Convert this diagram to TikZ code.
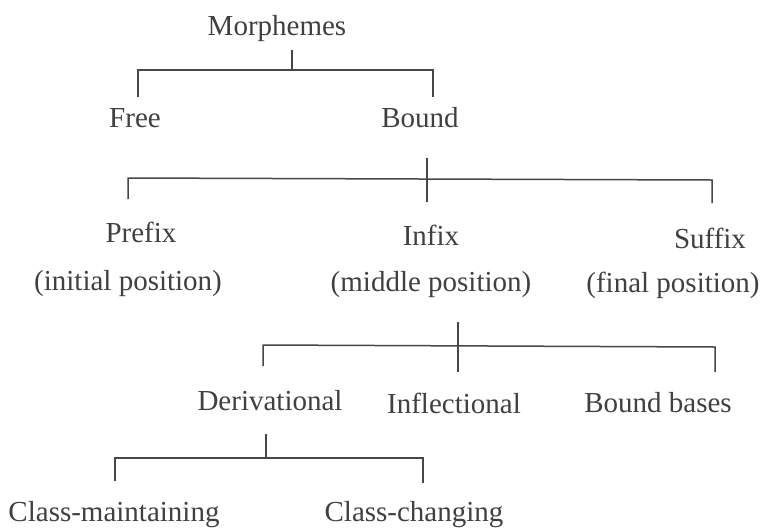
\documentclass[tikz,border=0pt]{standalone}
\usepackage{fontspec}
\setmainfont{Liberation Serif}
\begin{document}
\begin{tikzpicture}[x=1pt,y=-1pt,
  lbl/.style={inner sep=0pt,text=black!75,font=\fontsize{29}{34}\selectfont},
  br/.style={draw=black!72,line width=1.5pt}]
\useasboundingbox[fill=white] (0,0) rectangle (761,531);
% labels
\node[lbl] (morph) at (277,29) {Morphemes};
\node[lbl] (free) at (135,118) {Free};
\node[lbl] (bound) at (420,118) {Bound};
\node[lbl] (prefix) at (141,232) {Prefix};
\node[lbl] (infix) at (431,235) {Infix};
\node[lbl] (suffix) at (710,238) {Suffix};
\node[lbl] (pinit) at (128,284) {(initial position)};
\node[lbl] (pmid) at (431,285) {(middle position)};
\node[lbl] (pfin) at (673,285) {(final position)};
\node[lbl] (deriv) at (270,401) {Derivational};
\node[lbl] (infl) at (454,403) {Inflectional};
\node[lbl] (bbases) at (658,403) {Bound bases};
\node[lbl] (cmaint) at (114,515) {Class-maintaining};
\node[lbl] (cchang) at (414,515) {Class-changing};
% bracket 1
\coordinate (s1t) at (292,50);
\coordinate (s1b) at (292,70);
\coordinate (l1a) at (138,70);
\coordinate (l1b) at (138,97);
\coordinate (r1a) at (433,70);
\coordinate (r1b) at (433,97);
\draw[br] (s1t) -- (s1b);
\draw[br] (l1b) -- (l1a) -- (r1a) -- (r1b);
% bracket 2
\coordinate (t2t) at (427,158);
\coordinate (t2b) at (427,202);
\coordinate (l2a) at (128,178);
\coordinate (l2b) at (128,199);
\coordinate (r2a) at (712,180);
\coordinate (r2b) at (712,203);
\draw[br] (t2t) -- (t2b);
\draw[br] (l2b) -- (l2a) -- (r2a) -- (r2b);
% bracket 3
\coordinate (t3t) at (458,322);
\coordinate (t3b) at (458,372);
\coordinate (l3a) at (263,345);
\coordinate (l3b) at (263,366);
\coordinate (r3a) at (715,347);
\coordinate (r3b) at (715,372);
\draw[br] (t3t) -- (t3b);
\draw[br] (l3b) -- (l3a) -- (r3a) -- (r3b);
% bracket 4
\coordinate (s4t) at (266,434);
\coordinate (s4b) at (266,458);
\coordinate (l4a) at (115,458);
\coordinate (l4b) at (115,481);
\coordinate (r4a) at (423,458);
\coordinate (r4b) at (423,483);
\draw[br] (s4t) -- (s4b);
\draw[br] (l4b) -- (l4a) -- (r4a) -- (r4b);
\end{tikzpicture}
\end{document}
